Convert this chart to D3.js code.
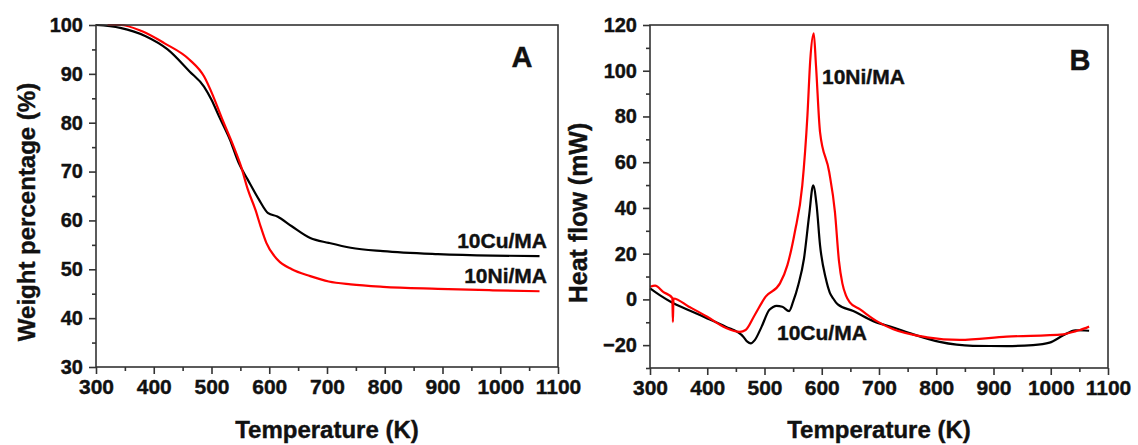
<!DOCTYPE html>
<html><head><meta charset="utf-8">
<script src="https://cdn.jsdelivr.net/npm/d3@7"></script>
<style>
body{margin:0;background:#fff}
text{font-family:"Liberation Sans",Arial,sans-serif;font-weight:bold;fill:#111;stroke:#111;stroke-width:0.4px}
</style>
</head><body>
<svg id="c" width="1138" height="445"></svg>
<script>
// ---- Panel A (TGA) data ----
const tgaCuT = [300,342,386,424,462,487,500,513,532,547,563,582,598,614,639,671,703,741,797,892,987,1068];
const tgaCuW = [100,99.4,97.7,95,90.5,87.4,84.7,81.3,76.5,71.8,68.3,64.3,61.5,60.8,58.8,56.4,55.4,54.4,53.7,53.1,52.8,52.7];
const tgaNiT = [320,342,380,418,462,487,503,519,538,551,563,576,585,595,614,639,671,703,741,797,892,987,1068];
const tgaNiW = [100,100,98.7,96.3,92.9,89.5,85.4,80.6,75.2,71.1,66.3,62.2,58.8,55.4,52,50,48.6,47.5,46.9,46.4,46,45.7,45.5];
// ---- Panel B (DSC) data ----
const dscCuT = [300,317,336,368,400,432,463,470,476,483,495,508,515,521,531,543,550,559,569,578,585,591,597,607,614,620,628,655,690,725,760,806,864,923,969,998,1022,1043,1067];
const dscCuV = [4.8,1.9,-1,-4.7,-8.3,-11.9,-16.3,-18.5,-19.2,-17.8,-11.9,-4.7,-3.3,-2.8,-3.2,-5.1,-1,6.3,17.9,36.8,49.9,41.2,23.7,9.2,3,0.4,-2.2,-5.1,-9.5,-12.3,-15.3,-18.6,-20.3,-20.4,-20,-18.9,-15.7,-13.5,-13.7];
const dscNiT = [300,309,323,339,340,341,368,400,432,457,467,483,502,527,540,553,566,575,580,586,590,597,613,623,630,636,642,649,667,696,725,784,841,923,1022,1039,1051,1067];
const dscNiV = [5.5,6,3.3,0.6,-9.9,0.4,-3.2,-7.6,-12.4,-14.2,-13.4,-6.8,1.2,7,15,29.5,49.9,80.5,105,116.3,102,73.2,55.7,38.3,17,7,1.9,-1.3,-4.4,-9.5,-13.1,-16.6,-17.7,-16.3,-15.3,-14.2,-13.4,-11.9];
// ---- axes ----
const xTicks = [300,400,500,600,700,800,900,1000,1100];
const xMinor = [350,450,550,650,750,850,950,1050];
const yTicksA = [30,40,50,60,70,80,90,100];
const yMinorA = [35,45,55,65,75,85,95];
const yTicksB = [-20,0,20,40,60,80,100,120];
const yMinorB = [-30,-10,10,30,50,70,90,110];
const seriesNames = ["10Cu/MA","10Ni/MA"];
const colors = ["#000000","#ff0000"];

const svg = d3.select("#c");

function styleText(sel,size){
  sel.attr("font-size",size).attr("fill","#111")
    .attr("font-family","Liberation Sans, Arial, sans-serif").attr("font-weight","bold");
}

function panel(o){
  const g = svg.append("g");
  const x = d3.scaleLinear().domain([300,1100]).range([o.left,o.right]);
  const y = d3.scaleLinear().domain(o.ydom).range([o.bottom,o.top]);
  const line = d3.line().x(d=>x(d[0])).y(d=>y(d[1])).curve(d3.curveMonotoneX);
  o.series.forEach((s,i)=>{
    g.append("path").datum(d3.zip(s[0],s[1]))
      .attr("d",line).attr("fill","none").attr("stroke",colors[i])
      .attr("stroke-width",2.2).attr("stroke-linejoin","round");
  });
  g.append("rect").attr("x",o.left).attr("y",o.top)
    .attr("width",o.right-o.left).attr("height",o.bottom-o.top)
    .attr("fill","none").attr("stroke","#333").attr("stroke-width",1.6);
  const xa = g.append("g").attr("transform",`translate(0,${o.bottom})`)
    .call(d3.axisBottom(x).tickValues(xTicks).tickSize(7).tickPadding(5).tickFormat(d3.format("d")));
  xa.select(".domain").remove();
  xa.selectAll("line").attr("stroke","#333").attr("stroke-width",1.6);
  styleText(xa.selectAll("text"),21);
  const xm = g.append("g").attr("transform",`translate(0,${o.bottom})`)
    .call(d3.axisBottom(x).tickValues(xMinor).tickSize(4).tickFormat(""));
  xm.select(".domain").remove();
  xm.selectAll("line").attr("stroke","#333").attr("stroke-width",1.6);
  const ya = g.append("g").attr("transform",`translate(${o.left},0)`)
    .call(d3.axisLeft(y).tickValues(o.yticks).tickSize(7).tickPadding(6).tickFormat(d3.format("d")));
  ya.select(".domain").remove();
  ya.selectAll("line").attr("stroke","#333").attr("stroke-width",1.6);
  styleText(ya.selectAll("text"),20);
  const ym = g.append("g").attr("transform",`translate(${o.left},0)`)
    .call(d3.axisLeft(y).tickValues(o.yminor).tickSize(4).tickFormat(""));
  ym.select(".domain").remove();
  ym.selectAll("line").attr("stroke","#333").attr("stroke-width",1.6);
  g.append("text").attr("x",(o.left+o.right)/2).attr("y",438)
    .attr("text-anchor","middle").attr("font-size",24).text("Temperature (K)");
  g.append("text").attr("transform",`translate(${o.ytx},${o.yty}) rotate(-90)`)
    .attr("text-anchor","middle").attr("font-size",o.ytsize).text(o.ytitle);
  g.append("text").attr("x",o.letterX).attr("y",o.letterY)
    .attr("text-anchor","middle").attr("font-size",29).text(o.letter);
  o.labels.forEach(l=>{
    g.append("text").attr("x",l.x).attr("y",l.y).attr("text-anchor",l.anchor)
      .attr("font-size",21).text(l.t);
  });
}

panel({left:96,right:558,top:25,bottom:367,ydom:[30,100],yticks:yTicksA,yminor:yMinorA,
  series:[[tgaCuT,tgaCuW],[tgaNiT,tgaNiW]],
  ytitle:"Weight percentage (%)",ytsize:24,ytx:35,yty:212,letter:"A",letterX:522,letterY:67,
  labels:[{t:seriesNames[0],x:547,y:248,anchor:"end"},{t:seriesNames[1],x:547,y:283,anchor:"end"}]});

panel({left:650,right:1108,top:25,bottom:368,ydom:[-30,120],yticks:yTicksB,yminor:yMinorB,
  series:[[dscCuT,dscCuV],[dscNiT,dscNiV]],
  ytitle:"Heat flow (mW)",ytsize:25,ytx:587,yty:213,letter:"B",letterX:1080,letterY:70,
  labels:[{t:seriesNames[1],x:822,y:84,anchor:"start"},{t:seriesNames[0],x:777,y:340,anchor:"start"}]});
</script>
</body></html>
